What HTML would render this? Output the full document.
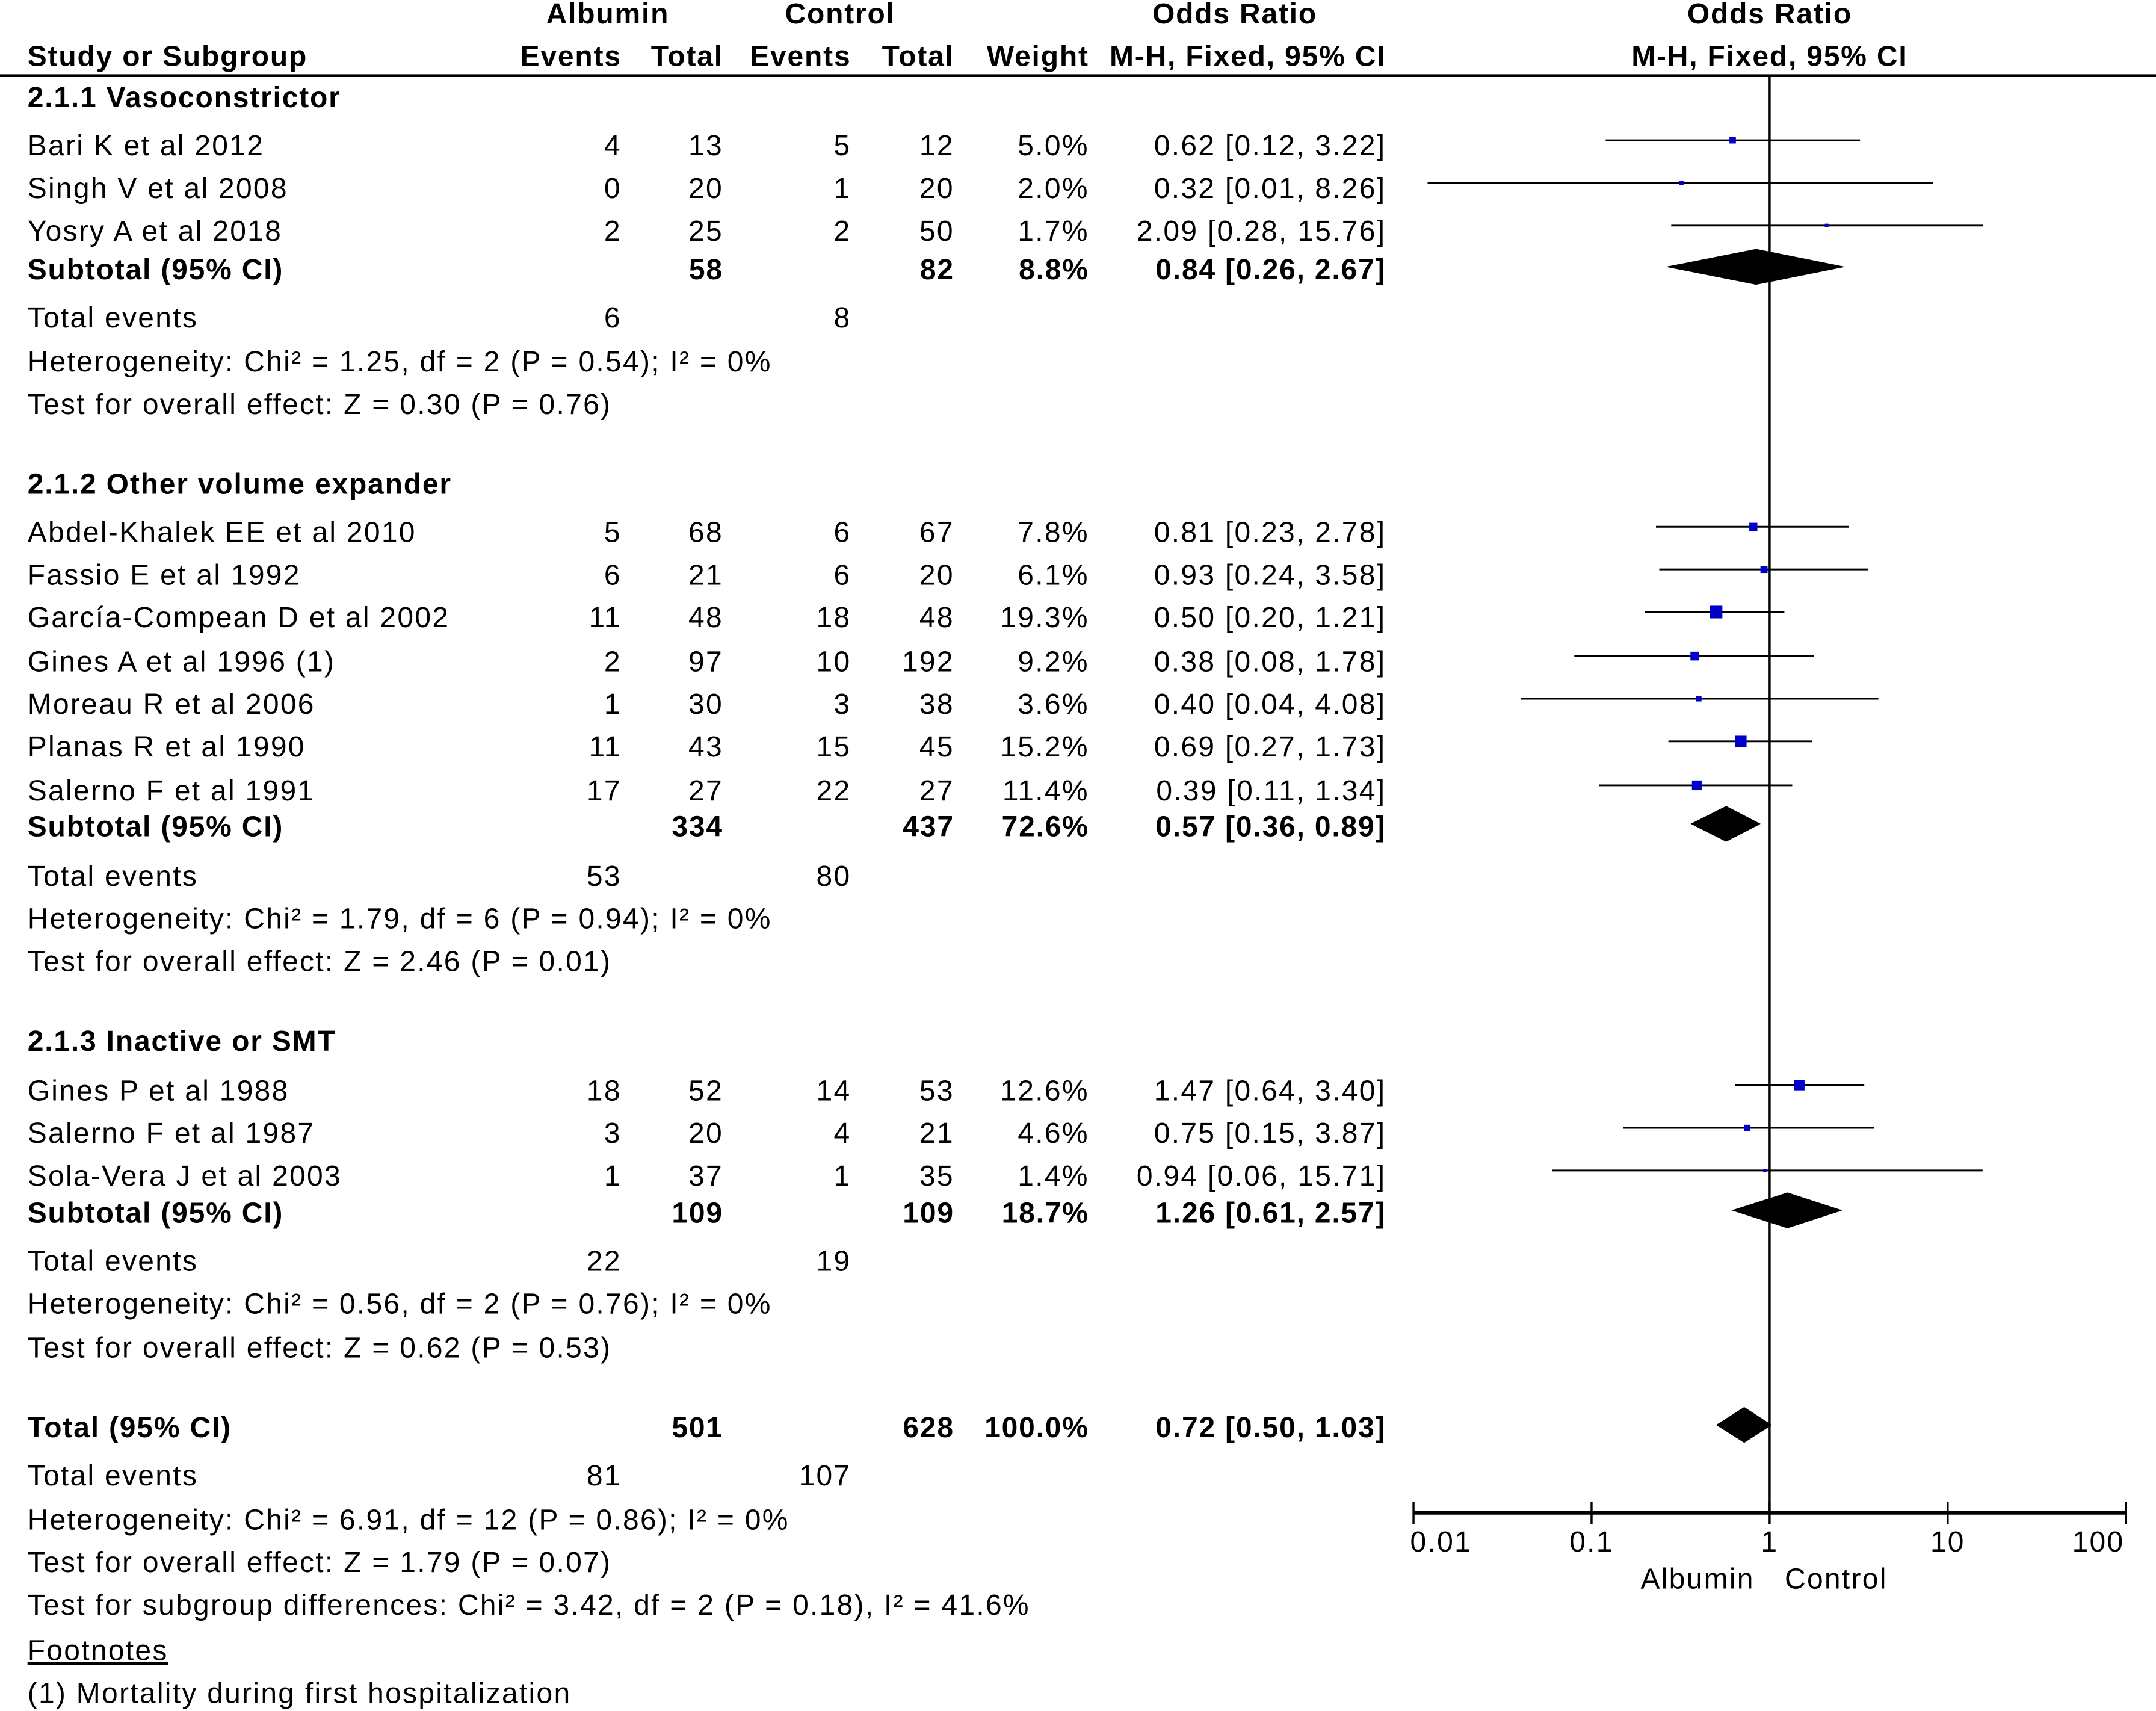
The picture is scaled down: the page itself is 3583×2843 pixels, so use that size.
<!DOCTYPE html>
<html><head><meta charset="utf-8"><style>
html,body{margin:0;padding:0;background:#fff;}
svg{display:block;}
text{font-family:"Liberation Sans",Arial,sans-serif;font-size:21px;fill:#000;letter-spacing:1px;}
.b{font-weight:bold;letter-spacing:0.8px;}
</style></head><body>
<svg id="c" width="3583" height="2843" viewBox="0 0 1568 1244" preserveAspectRatio="none" xmlns="http://www.w3.org/2000/svg">
<g>
<text class="b" x="442" y="17" text-anchor="middle">Albumin</text>
<text class="b" x="611" y="17" text-anchor="middle">Control</text>
<text class="b" x="898" y="17" text-anchor="middle">Odds Ratio</text>
<text class="b" x="1287" y="17" text-anchor="middle">Odds Ratio</text>
<text class="b" x="20" y="48">Study or Subgroup</text>
<text class="b" x="452" y="48" text-anchor="end">Events</text>
<text class="b" x="526" y="48" text-anchor="end">Total</text>
<text class="b" x="619" y="48" text-anchor="end">Events</text>
<text class="b" x="694" y="48" text-anchor="end">Total</text>
<text class="b" x="792" y="48" text-anchor="end">Weight</text>
<text class="b" x="1008" y="48" text-anchor="end">M-H, Fixed, 95% CI</text>
<text class="b" x="1287" y="48" text-anchor="middle">M-H, Fixed, 95% CI</text>
<line x1="0" y1="55" x2="1568" y2="55" stroke="#000" stroke-width="2"/>
</g>
<g id="tbl"></g>
<g id="plot"></g>
</svg>
<script>
const studyNames=["Bari K et al 2012","Singh V et al 2008","Yosry A et al 2018","Abdel-Khalek EE et al 2010","Fassio E et al 1992","García-Compean D et al 2002","Gines A et al 1996 (1)","Moreau R et al 2006","Planas R et al 1990","Salerno F et al 1991","Gines P et al 1988","Salerno F et al 1987","Sola-Vera J et al 2003"];
const studyY=[106,137,168,387,418,449,481,512,543,575,793,824,855];
const albEvents=[4,0,2,5,6,11,2,1,11,17,18,3,1];
const albTotal=[13,20,25,68,21,48,97,30,43,27,52,20,37];
const ctlEvents=[5,1,2,6,6,18,10,3,15,22,14,4,1];
const ctlTotal=[12,20,50,67,20,48,192,38,45,27,53,21,35];
const weights=[5.0,2.0,1.7,7.8,6.1,19.3,9.2,3.6,15.2,11.4,12.6,4.6,1.4];
const orVal=[0.62,0.32,2.09,0.81,0.93,0.50,0.38,0.40,0.69,0.39,1.47,0.75,0.94];
const orLo=[0.12,0.01,0.28,0.23,0.24,0.20,0.08,0.04,0.27,0.11,0.64,0.15,0.06];
const orHi=[3.22,8.26,15.76,2.78,3.58,1.21,1.78,4.08,1.73,1.34,3.40,3.87,15.71];
const subLabels=["Subtotal (95% CI)","Subtotal (95% CI)","Subtotal (95% CI)","Total (95% CI)"];
const subY=[196,601,882,1038];
const subAlbTotal=[58,334,109,501];
const subCtlTotal=[82,437,109,628];
const subWeights=["8.8%","72.6%","18.7%","100.0%"];
const subOr=[0.84,0.57,1.26,0.72];
const subLo=[0.26,0.36,0.61,0.50];
const subHi=[2.67,0.89,2.57,1.03];
const lineText=["2.1.1 Vasoconstrictor","Total events","Heterogeneity: Chi² = 1.25, df = 2 (P = 0.54); I² = 0%","Test for overall effect: Z = 0.30 (P = 0.76)",
"2.1.2 Other volume expander","Total events","Heterogeneity: Chi² = 1.79, df = 6 (P = 0.94); I² = 0%","Test for overall effect: Z = 2.46 (P = 0.01)",
"2.1.3 Inactive or SMT","Total events","Heterogeneity: Chi² = 0.56, df = 2 (P = 0.76); I² = 0%","Test for overall effect: Z = 0.62 (P = 0.53)",
"Total events","Heterogeneity: Chi² = 6.91, df = 12 (P = 0.86); I² = 0%","Test for overall effect: Z = 1.79 (P = 0.07)","Test for subgroup differences: Chi² = 3.42, df = 2 (P = 0.18), I² = 41.6%","Footnotes","(1) Mortality during first hospitalization"];
const lineY=[71,231,263,294,352,637,668,699,757,917,948,980,1073,1105,1136,1167,1200,1231];
const lineBold=[1,0,0,0,1,0,0,0,1,0,0,0,0,0,0,0,0,0];
const totEvY=[231,637,917,1073];
const totEvAlb=[6,53,22,81];
const totEvCtl=[8,80,19,107];
const tickVals=[0.01,0.1,1,10,100];
const tickLabels=["0.01","0.1","1","10","100"];

const NS="http://www.w3.org/2000/svg";
const tbl=document.getElementById('tbl'), plot=document.getElementById('plot');
function mk(tag,attrs,parent,txt){const e=document.createElementNS(NS,tag);for(const k in attrs)e.setAttribute(k,attrs[k]);if(txt!==undefined)e.textContent=txt;parent.appendChild(e);return e;}
function xs(v){return 1287+129.5*Math.log10(v);}
function fmt(v){return v.toFixed(2);}
function txt(x,y,s,anchor,bold,name){const e=mk('text',{x:x,y:y+7,'text-anchor':anchor||'start'},tbl,s);if(bold)e.setAttribute('class','b');

return e;}

studyNames.forEach((n,i)=>{const y=studyY[i];
txt(20,y,n,'start',0,'study-name');
txt(452,y,String(albEvents[i]),'end',0,'albumin-events');
txt(526,y,String(albTotal[i]),'end',0,'albumin-total');
txt(619,y,String(ctlEvents[i]),'end',0,'control-events');
txt(694,y,String(ctlTotal[i]),'end',0,'control-total');
txt(792,y,weights[i].toFixed(1)+'%','end',0,'weight');
txt(1008,y,fmt(orVal[i])+' ['+fmt(orLo[i])+', '+(orHi[i]).toFixed(2)+']','end',0,'odds-ratio-ci');
const lo=Math.max(orLo[i],0.012),hi=Math.min(orHi[i],100);
const l=mk('line',{x1:xs(lo),x2:xs(hi),y1:y-4,y2:y-4,stroke:'#000','stroke-width':1.3},plot);


const s=Math.max(2.5,Math.sqrt(weights[i])*2.1);
const r=mk('rect',{x:xs(orVal[i])-s/2,y:y-4-s/2,width:s,height:s,fill:'#0000c8'},plot);


});
subLabels.forEach((n,i)=>{const y=subY[i];
txt(20,y,n,'start',1,'subtotal-label');
txt(526,y,String(subAlbTotal[i]),'end',1,'subtotal-albumin-total');
txt(694,y,String(subCtlTotal[i]),'end',1,'subtotal-control-total');
txt(792,y,subWeights[i],'end',1,'subtotal-weight');
txt(1008,y,fmt(subOr[i])+' ['+fmt(subLo[i])+', '+fmt(subHi[i])+']','end',1,'subtotal-odds-ratio');
const c=y-2,a=xs(subLo[i]),m=xs(subOr[i]),b=xs(subHi[i]);
const d=mk('polygon',{points:`${a},${c} ${m},${c-13} ${b},${c} ${m},${c+13}`,fill:'#000'},plot);


});
lineText.forEach((s,i)=>{const e=txt(20,lineY[i],s,'start',lineBold[i],'text-line');
if(s==='Footnotes'){e.setAttribute('text-decoration','underline');}});
totEvY.forEach((y,i)=>{txt(452,y,String(totEvAlb[i]),'end',0,'total-events-albumin');txt(619,y,String(totEvCtl[i]),'end',0,'total-events-control');});

const nl=mk('line',{x1:1287,x2:1287,y1:55,y2:1100,stroke:'#000','stroke-width':1.5},plot);


const ax=mk('line',{x1:xs(tickVals[0]),x2:xs(tickVals[tickVals.length-1]),y1:1100,y2:1100,stroke:'#000','stroke-width':2.5},plot);


tickVals.forEach((v,i)=>{const t=mk('line',{x1:xs(v),x2:xs(v),y1:1092,y2:1108,stroke:'#000','stroke-width':1.5},plot);


const lb=mk('text',{x:xs(v)+(i===0?20:i===4?-20:0),y:1128,'text-anchor':'middle'},plot,tickLabels[i]);

});
const f1=mk('text',{x:1276,y:1155,'text-anchor':'end'},plot,'Albumin');


const f2=mk('text',{x:1298,y:1155,'text-anchor':'start'},plot,'Control');


</script>
</body></html>
